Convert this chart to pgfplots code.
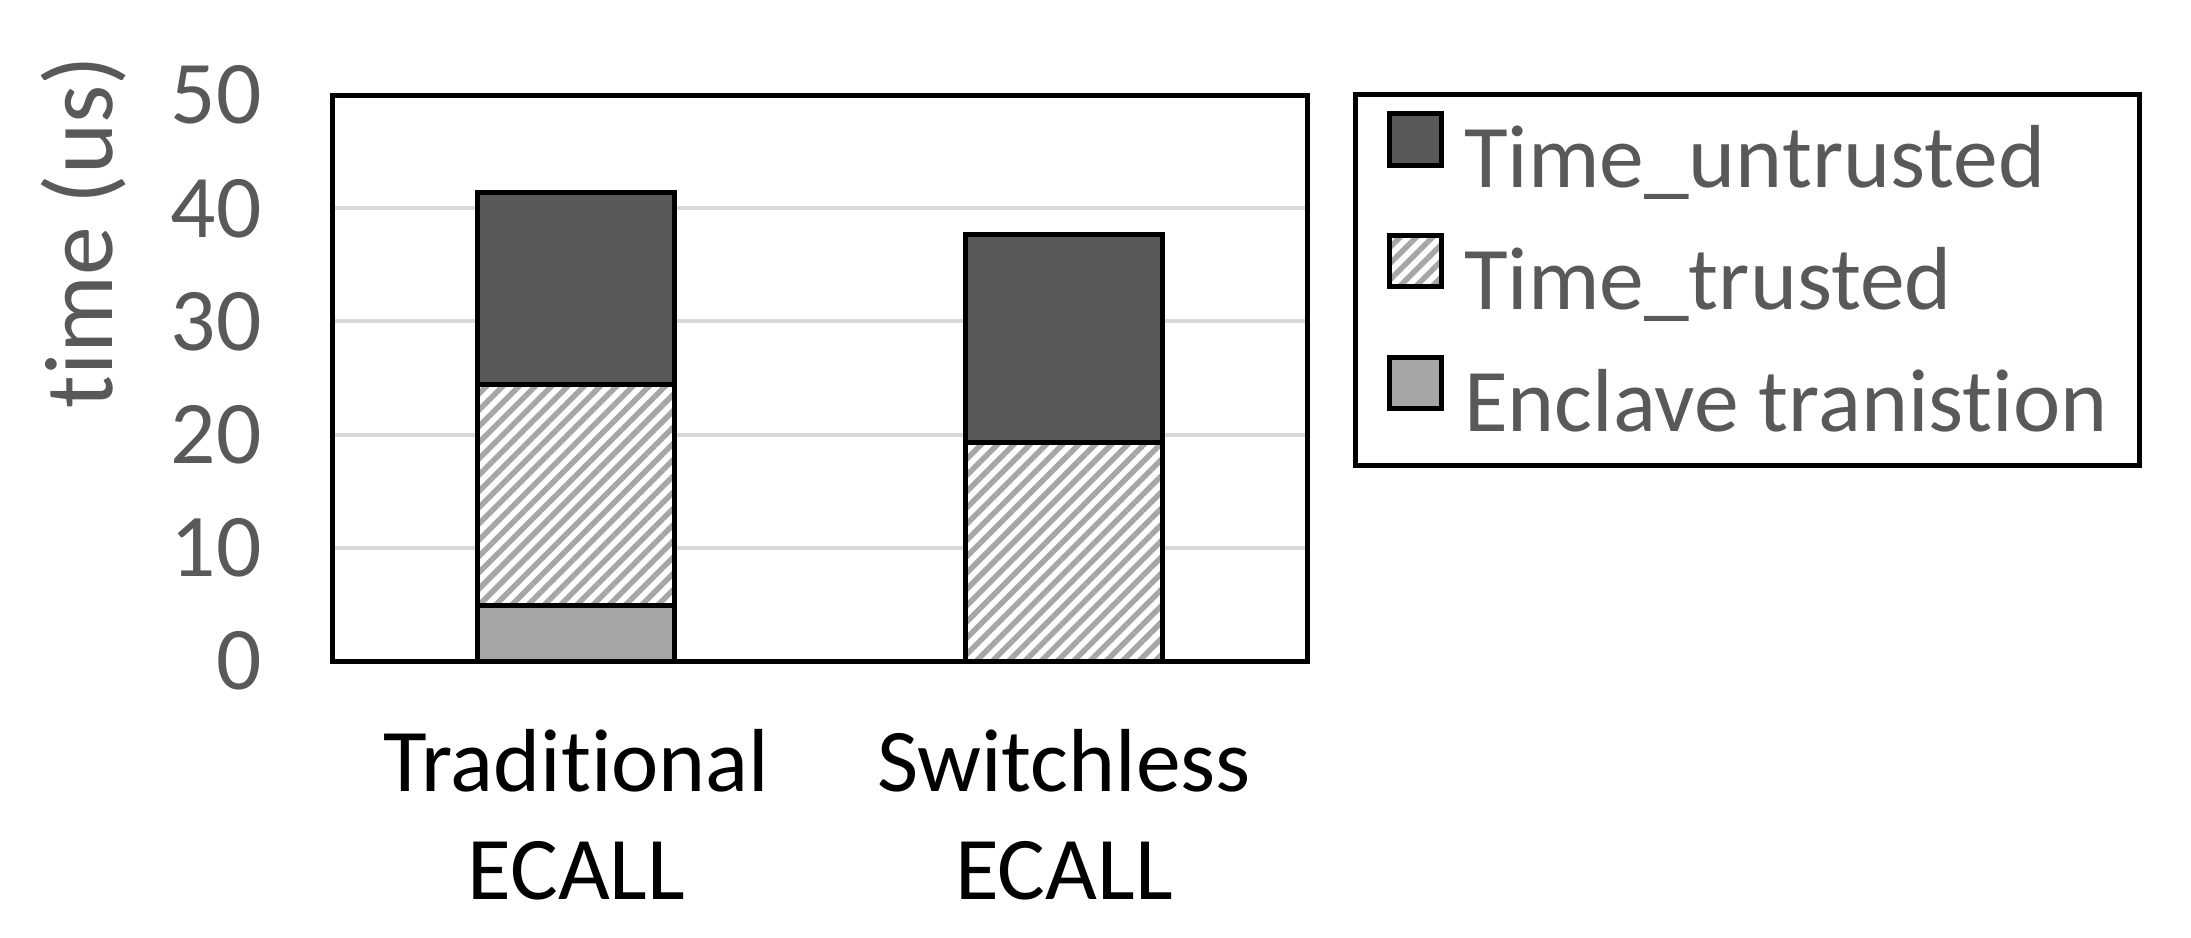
\documentclass[border=0pt]{standalone}
\usepackage{fontspec}
\setmainfont{Carlito}[Ligatures={NoCommon,NoRequired,NoContextual},Contextuals={NoAlternate}]
\usepackage{pgfplots}
\pgfplotsset{compat=1.18}
\usetikzlibrary{patterns.meta}

\definecolor{dark}{HTML}{595959}
\definecolor{light}{HTML}{A6A6A6}
\definecolor{gridc}{HTML}{D9D9D9}
\definecolor{txt}{HTML}{595959}

\begin{document}
\begin{tikzpicture}
\useasboundingbox (-66.5pt,-55.3pt) rectangle (371.6pt,132.2pt);
\begin{axis}[
    at={(0,0)}, anchor=south west,
    scale only axis, width=195pt, height=113.2pt,
    ybar stacked, bar width=39.4pt,
    xmin=-0.5, xmax=1.5, ymin=0, ymax=50,
    xtick={0,1},
    xticklabels={{Traditional\\ECALL},{Switchless\\ECALL}},
    ytick={0,10,20,30,40,50},
    major tick length=0pt,
    ymajorgrids, grid style={gridc, line width=0.8pt},
    axis line style={black, line width=1pt},
    /pgf/number format/assume math mode=true,
    yticklabel style={text=txt, font=\fontsize{17.9}{21.5}\selectfont,
        anchor=east, inner sep=0pt, xshift=-14pt},
    xticklabel style={text=black, font=\fontsize{17.9}{21.5}\selectfont,
        align=center, anchor=north, inner sep=0pt, yshift=-13.5pt},
    ylabel={time (us)},
    ylabel style={at={(axis description cs:-0.255,0.758)}, anchor=center,
        inner sep=0pt, text=txt, font=\fontsize{19.5}{23}\selectfont},
    legend style={at={(1.046,1.006)}, anchor=north west, draw=black,
        line width=1pt, text=txt, font=\fontsize{17.9}{21.5}\selectfont,
        inner xsep=6.3pt, inner ysep=3.4pt, row sep=5.5pt, column sep=4pt,
        nodes={inner sep=0pt, text height=12.6pt, text depth=3.5pt}},
    legend cell align=left,
    reverse legend,
    legend image code/.code={
        \draw[#1, line width=1pt] (0pt,0pt) rectangle (10.5pt,10.3pt);},
]
\addplot[fill=light, draw=black, line width=1pt]
    coordinates {(0,4.9) (1,0)};
\addplot[preaction={fill=white}, pattern={Lines[angle=45,distance=2.3pt,line width=1.1pt]},
    pattern color=light, draw=black, line width=1pt]
    coordinates {(0,19.5) (1,19.3)};
\addplot[fill=dark, draw=black, line width=1pt]
    coordinates {(0,17.0) (1,18.4)};
\legend{Enclave tranistion, Time\_trusted, Time\_untrusted}
\end{axis}
\end{tikzpicture}
\end{document}
